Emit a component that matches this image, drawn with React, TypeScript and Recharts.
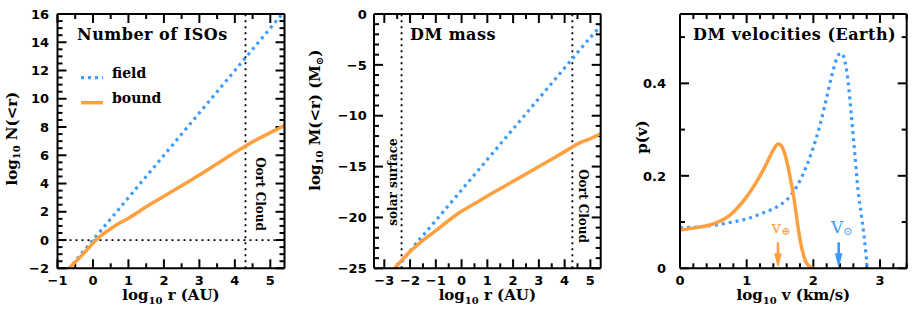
import React from 'react';
import { ComposedChart, Line, XAxis, YAxis, ReferenceLine, ReferenceDot, Legend, Customized } from 'recharts';

const BLUE = '#3d9bff';
const ORANGE = '#ffa040';
const SERIF = 'DejaVu Serif';
const SANS = 'DejaVu Sans';

// ---------- Panel 1: Number of ISOs ----------
const isoFieldLogR = [-0.7, -0.5, -0.25, 0, 0.5, 1, 1.5, 2, 2.5, 3, 3.5, 4, 4.3, 4.5, 5, 5.4];
const isoFieldLogN = [-2.1, -1.5, -0.75, 0, 1.5, 3.0, 4.5, 6.0, 7.5, 9.0, 10.5, 12.0, 12.9, 13.5, 15.0, 16.2];
const isoBoundLogR = [-0.67, -0.5, -0.3, -0.1, 0, 0.15, 0.3, 0.5, 0.75, 1, 1.5, 2, 2.5, 3, 3.5, 4, 4.3, 4.5, 5, 5.4];
const isoBoundLogN = [-2.0, -1.55, -1.05, -0.5, -0.22, 0.15, 0.45, 0.8, 1.2, 1.55, 2.35, 3.1, 3.85, 4.6, 5.4, 6.2, 6.65, 6.95, 7.6, 8.1];
const isoXTicks = [-1, 0, 1, 2, 3, 4, 5];
const isoXMinor = [-1, -0.5, 0, 0.5, 1, 1.5, 2, 2.5, 3, 3.5, 4, 4.5, 5];
const isoYTicks = [-2, 0, 2, 4, 6, 8, 10, 12, 14, 16];
const isoYMinor = [-2, -1.5, -1, -0.5, 0, 0.5, 1, 1.5, 2, 2.5, 3, 3.5, 4, 4.5, 5, 5.5, 6, 6.5, 7, 7.5, 8, 8.5, 9, 9.5, 10, 10.5, 11, 11.5, 12, 12.5, 13, 13.5, 14, 14.5, 15, 15.5, 16];
const oortLogR = 4.3;

// ---------- Panel 2: DM mass ----------
const massFieldLogR = [-2.33, -2, -1, 0, 1, 2, 3, 4, 4.3, 5, 5.4];
const massFieldLogM = [-24.4, -23.3, -20.3, -17.3, -14.3, -11.3, -8.3, -5.3, -4.4, -2.3, -1.2];
const massBoundLogR = [-2.6, -2.3, -2, -1.5, -1, -0.5, 0, 0.5, 1, 1.5, 2, 2.5, 3, 3.5, 4, 4.3, 4.5, 5, 5.4];
const massBoundLogM = [-25, -24.15, -23.35, -22.25, -21.3, -20.3, -19.4, -18.65, -17.9, -17.17, -16.45, -15.72, -15.0, -14.27, -13.53, -13.08, -12.77, -12.25, -11.75];
const massXTicks = [-3, -2, -1, 0, 1, 2, 3, 4, 5];
const massXMinor = [-3, -2.5, -2, -1.5, -1, -0.5, 0, 0.5, 1, 1.5, 2, 2.5, 3, 3.5, 4, 4.5, 5];
const massYTicks = [-25, -20, -15, -10, -5, 0];
const massYMinor = [-25, -24, -23, -22, -21, -20, -19, -18, -17, -16, -15, -14, -13, -12, -11, -10, -9, -8, -7, -6, -5, -4, -3, -2, -1, 0];
const solarSurfaceLogR = -2.33;

// ---------- Panel 3: DM velocities (Earth) ----------
const velBoundLogV = [0, 0.25, 0.5, 0.75, 1.0, 1.1, 1.2, 1.3, 1.4, 1.47, 1.52, 1.57, 1.62, 1.66, 1.7, 1.74, 1.78, 1.82, 1.86, 1.9, 1.95, 2.0];
const velBoundP = [0.083, 0.088, 0.096, 0.115, 0.155, 0.176, 0.2, 0.227, 0.256, 0.269, 0.265, 0.248, 0.22, 0.19, 0.16, 0.12, 0.08, 0.048, 0.025, 0.011, 0.003, 0];
const velFieldLogV = [0, 0.25, 0.5, 0.75, 1.0, 1.25, 1.5, 1.6, 1.7, 1.8, 1.9, 2.0, 2.1, 2.2, 2.3, 2.38, 2.42, 2.47, 2.52, 2.57, 2.62, 2.67, 2.72, 2.76, 2.79, 2.81];
const velFieldP = [0.088, 0.089, 0.093, 0.099, 0.107, 0.12, 0.137, 0.148, 0.165, 0.19, 0.222, 0.262, 0.31, 0.37, 0.43, 0.462, 0.465, 0.45, 0.405, 0.33, 0.25, 0.17, 0.115, 0.07, 0.03, 0];
const velXTicks = [0, 1, 2, 3];
const velXMinor = [0, 0.2, 0.4, 0.6, 0.8, 1, 1.2, 1.4, 1.6, 1.8, 2, 2.2, 2.4, 2.6, 2.8, 3, 3.2, 3.4];
const velYTicks = [0, 0.2, 0.4];
const velYMinor = [0, 0.1, 0.2, 0.3, 0.4, 0.5];
const vEarthLogV = 1.47;
const vSunLogV = 2.38;

const seriesOrder = ['field', 'bound'];

const zip = (xs: number[], ys: number[]) => xs.map((x, i) => ({ x, y: ys[i] }));
const fmt = (v: number) => String(v).replace('-', '\u2212');
const isIn = (list: number[], v: number) => list.some((m) => Math.abs(m - v) < 1e-9);

const frameLine = { stroke: '#000', strokeWidth: 2 };
const MAJ = 9;
const MIN = 5;
const PLOT_H = 254.3;
const TICK_W = 2;

type Side = 'bottom' | 'left';

// Tick labels (labelled major ticks only)
const makeLabel = (side: Side, majors: number[], labelGap: number) => (props: any) => {
  const { x, y, payload } = props;
  const v = payload && payload.value;
  if (!isIn(majors, v)) return <g />;
  const common = { fontFamily: SANS, fontWeight: 'bold' as const, fontSize: 13, fill: '#000' };
  if (side === 'bottom') return <text x={x} y={y + labelGap} textAnchor="middle" {...common}>{fmt(v)}</text>;
  return <text x={x - labelGap} y={y} dy="0.36em" textAnchor="end" {...common}>{fmt(v)}</text>;
};

// Inward tick marks on all four sides, as short reference segments placed through the chart scales.
function frameTicks(
  xDomain: [number, number],
  yDomain: [number, number],
  xMajor: number[],
  xAll: number[],
  yMajor: number[],
  yAll: number[],
  plotW: number,
) {
  const ux = (xDomain[1] - xDomain[0]) / plotW;
  const uy = (yDomain[1] - yDomain[0]) / PLOT_H;
  const out: React.ReactNode[] = [];
  const seg = (key: string, a: { x: number; y: number }, b: { x: number; y: number }) => (
    <ReferenceLine key={key} xAxisId="b" yAxisId="l" segment={[a, b]} stroke="#000" strokeWidth={TICK_W} ifOverflow="visible" />
  );
  xAll.forEach((t, i) => {
    const len = isIn(xMajor, t) ? MAJ : MIN;
    out.push(seg('xb' + i, { x: t, y: yDomain[0] }, { x: t, y: yDomain[0] + len * uy }));
    out.push(seg('xt' + i, { x: t, y: yDomain[1] }, { x: t, y: yDomain[1] - len * uy }));
  });
  yAll.forEach((t, i) => {
    const len = isIn(yMajor, t) ? MAJ : MIN;
    out.push(seg('yl' + i, { x: xDomain[0], y: t }, { x: xDomain[0] + len * ux, y: t }));
    out.push(seg('yr' + i, { x: xDomain[1], y: t }, { x: xDomain[1] - len * ux, y: t }));
  });
  return out;
}

const xTitle = (sym: string) => (props: any) => {
  const vb = props.viewBox || {};
  const cx = vb.x + vb.width / 2;
  const y = vb.y + 32;
  return (
    <text x={cx} y={y} textAnchor="middle" fontFamily={SERIF} fontWeight="bold" fontSize={15} fill="#000">
      log<tspan fontSize={10} dy={4}>10</tspan>
      <tspan dy={-4}>{' ' + sym}</tspan>
    </text>
  );
};

const yTitle = (dx: number, dy: number, parts: React.ReactNode) => (props: any) => {
  const vb = props.viewBox || {};
  const cx = vb.x + dx;
  const cy = vb.y + vb.height / 2 + dy;
  return (
    <text transform={`translate(${cx},${cy}) rotate(-90)`} textAnchor="middle" dominantBaseline="central" fontFamily={SERIF} fontWeight="bold" fontSize={15} fill="#000">
      {parts}
    </text>
  );
};

const vLineLabel = (text: string, dx: number, cyFromTop: number, angle: number) => (props: any) => {
  const vb = props.viewBox || {};
  const cx = vb.x + dx;
  const cy = vb.y + cyFromTop;
  return (
    <text transform={`translate(${cx},${cy}) rotate(${angle})`} textAnchor="middle" dominantBaseline="central" fontFamily={SERIF} fontWeight="bold" fontSize={12} fill="#000">
      {text}
    </text>
  );
};

const Title = (x: number, y: number, text: string) => () => (
  <text x={x} y={y} fontFamily={SERIF} fontWeight="bold" fontSize={16} letterSpacing={0.5} fill="#000">
    {text}
  </text>
);

const legendStyles: Record<string, { dash?: string; width: number }> = {
  field: { dash: '3 4', width: 3.2 },
  bound: { width: 3.5 },
};

function IsoLegend(props: any) {
  const payload = [...(props.payload || [])]
    .filter((e: any) => seriesOrder.includes(String(e.value)))
    .sort((a: any, b: any) => seriesOrder.indexOf(String(a.value)) - seriesOrder.indexOf(String(b.value)));
  return (
    <svg width={120} height={52} style={{ display: 'block' }}>
      {payload.map((e: any, i: number) => {
        const st = legendStyles[e.value] || { width: 3 };
        const cy = 17.7 + i * 25;
        return (
          <g key={String(e.value)}>
            <line x1={3} x2={25} y1={cy} y2={cy} stroke={e.color} strokeWidth={st.width} strokeDasharray={st.dash} />
            <text x={34} y={cy + 0.5} fontFamily={SERIF} fontWeight="bold" fontSize={14} fill="#000">
              {e.value}
            </text>
          </g>
        );
      })}
    </svg>
  );
}

const arrowShape = (color: string, main: string, sub: string) => (props: any) => {
  const { cx, cy } = props;
  return (
    <g>
      <line x1={cx} x2={cx} y1={cy - 26} y2={cy - 12} stroke={color} strokeWidth={2.6} />
      <polygon points={`${cx - 3.8},${cy - 15} ${cx + 3.8},${cy - 15} ${cx},${cy}`} fill={color} />
      <text x={cx + 3} y={cy - 35} textAnchor="middle" fontFamily={SERIF} fontSize={17} fill={color}>
        {main}
        <tspan fontSize={11} dy={2}>{sub}</tspan>
      </text>
    </g>
  );
};

// top axis takes 1px, right axis takes 1px
const chartMargin = (left: number, right: number) => ({ top: 13, right: right - 1, bottom: 11.7, left });

function axes(
  xDomain: [number, number],
  yDomain: [number, number],
  xMajor: number[],
  yMajor: number[],
  xTitleNode: any,
  yTitleNode: any,
  yLabelGap: number,
  yWidth: number,
) {
  const common = { type: 'number' as const, allowDataOverflow: true, interval: 0 as const, tickLine: false, tickSize: 0, tickMargin: 0 };
  return [
    <XAxis key="b" xAxisId="b" dataKey="x" orientation="bottom" height={40} domain={xDomain} ticks={xMajor} axisLine={frameLine}
      tick={makeLabel('bottom', xMajor, 16.7)} label={xTitleNode} {...common} />,
    <XAxis key="t" xAxisId="t" dataKey="x" orientation="top" height={1} domain={xDomain} ticks={xMajor} axisLine={frameLine}
      tick={false} {...common} />,
    <YAxis key="l" yAxisId="l" dataKey="y" orientation="left" width={yWidth} domain={yDomain} ticks={yMajor} axisLine={frameLine}
      tick={makeLabel('left', yMajor, yLabelGap)} label={yTitleNode} {...common} />,
    <YAxis key="r" yAxisId="r" dataKey="y" orientation="right" width={1} domain={yDomain} ticks={yMajor} axisLine={frameLine}
      tick={false} {...common} />,
  ];
}

export default function App() {
  const isoField = zip(isoFieldLogR, isoFieldLogN);
  const isoBound = zip(isoBoundLogR, isoBoundLogN);
  const massField = zip(massFieldLogR, massFieldLogM);
  const massBound = zip(massBoundLogR, massBoundLogM);
  const velField = zip(velFieldLogV, velFieldP);
  const velBound = zip(velBoundLogV, velBoundP);

  const isoX: [number, number] = [-1, 5.4];
  const isoY: [number, number] = [-2, 16];
  const massX: [number, number] = [-3.4, 5.4];
  const massY: [number, number] = [-25, 0];
  const velX: [number, number] = [0, 3.4];
  const velY: [number, number] = [0, 0.55];

  const hiddenLine = (data: any[]) => (
    <Line xAxisId="t" yAxisId="r" data={data} dataKey="y" name="frame" stroke="none" legendType="none" dot={false} activeDot={false} isAnimationActive={false} />
  );

  return (
    <div style={{ position: 'absolute', left: 0, top: 0, width: 915, height: 320, background: '#fff' }}>
      {/* Panel 1 */}
      <div style={{ position: 'absolute', left: 0, top: 0 }}>
        <ComposedChart width={300} height={320} margin={chartMargin(7.5, 15.5)} data={[...isoField, ...isoBound]}>
          {axes(isoX, isoY, isoXTicks, isoYTicks, xTitle('r (AU)'),
            yTitle(4.5, -2.5, <>log<tspan fontSize={10} dy={4}>10</tspan><tspan dy={-4}> N(&lt;r)</tspan></>), 8.5, 50)}
          {hiddenLine(isoBound)}
          {frameTicks(isoX, isoY, isoXTicks, isoXMinor, isoYTicks, isoYMinor, 227)}
          <ReferenceLine xAxisId="b" yAxisId="l" y={0} stroke="#000" strokeWidth={1.8} strokeDasharray="2 4" />
          <ReferenceLine xAxisId="b" yAxisId="l" x={oortLogR} stroke="#000" strokeWidth={1.8} strokeDasharray="2 4"
            label={vLineLabel('Oort Cloud', 14.5, 180, 90)} />
          <Line xAxisId="b" yAxisId="l" data={isoField} dataKey="y" name="field" type="monotone" stroke={BLUE} strokeWidth={3.2}
            strokeDasharray="3 4" dot={false} isAnimationActive={false} />
          <Line xAxisId="b" yAxisId="l" data={isoBound} dataKey="y" name="bound" type="monotone" stroke={ORANGE} strokeWidth={3.5}
            dot={false} isAnimationActive={false} />
          <Legend layout="vertical" align="center" verticalAlign="middle" content={IsoLegend}
            wrapperStyle={{ left: 78, top: 60, width: 120, height: 52 }} />
          <Customized component={Title(77, 40, 'Number of ISOs')} />
        </ComposedChart>
      </div>

      {/* Panel 2 */}
      <div style={{ position: 'absolute', left: 300, top: 0 }}>
        <ComposedChart width={310} height={320} margin={chartMargin(14, 9.3)} data={[...massField, ...massBound]}>
          {axes(massX, massY, massXTicks, massYTicks, xTitle('r (AU)'),
            yTitle(1, -21, <>log<tspan fontSize={10} dy={4}>10</tspan><tspan dy={-4}> M(&lt;r) (M</tspan><tspan fontSize={10} dy={4}>{'\u2299'}</tspan><tspan dy={-4}>)</tspan></>), 7.3, 60)}
          {hiddenLine(massBound)}
          {frameTicks(massX, massY, massXTicks, massXMinor, massYTicks, massYMinor, 226.7)}
          <ReferenceLine xAxisId="b" yAxisId="l" x={solarSurfaceLogR} stroke="#000" strokeWidth={1.8} strokeDasharray="2 4"
            label={vLineLabel('solar surface', -8.6, 168, -90)} />
          <ReferenceLine xAxisId="b" yAxisId="l" x={oortLogR} stroke="#000" strokeWidth={1.8} strokeDasharray="2 4"
            label={vLineLabel('Oort Cloud', 10.5, 192, 90)} />
          <Line xAxisId="b" yAxisId="l" data={massField} dataKey="y" name="field" type="monotone" stroke={BLUE} strokeWidth={3.2}
            strokeDasharray="3 4" dot={false} isAnimationActive={false} />
          <Line xAxisId="b" yAxisId="l" data={massBound} dataKey="y" name="bound" type="monotone" stroke={ORANGE} strokeWidth={3.5}
            dot={false} isAnimationActive={false} />
          <Customized component={Title(110, 40, 'DM mass')} />
        </ComposedChart>
      </div>

      {/* Panel 3 */}
      <div style={{ position: 'absolute', left: 610, top: 0 }}>
        <ComposedChart width={305} height={320} margin={chartMargin(10, 8.3)} data={[...velField, ...velBound]}>
          {axes(velX, velY, velXTicks, velYTicks, xTitle('v (km/s)'),
            yTitle(22, -4, <>p(v)</>), 14, 60)}
          {hiddenLine(velBound)}
          {frameTicks(velX, velY, velXTicks, velXMinor, velYTicks, velYMinor, 226.7)}
          <Line xAxisId="b" yAxisId="l" data={velField} dataKey="y" name="field" type="monotone" stroke={BLUE} strokeWidth={3.2}
            strokeDasharray="3 4" dot={false} isAnimationActive={false} />
          <Line xAxisId="b" yAxisId="l" data={velBound} dataKey="y" name="bound" type="monotone" stroke={ORANGE} strokeWidth={3.5}
            dot={false} isAnimationActive={false} />
          <ReferenceDot xAxisId="b" yAxisId="l" x={vEarthLogV} y={0} r={0} shape={arrowShape(ORANGE, 'v', '\u2295')} />
          <ReferenceDot xAxisId="b" yAxisId="l" x={vSunLogV} y={0} r={0} shape={arrowShape(BLUE, 'V', '\u2299')} />
          <Customized component={Title(83, 40, 'DM velocities (Earth)')} />
        </ComposedChart>
      </div>
    </div>
  );
}
